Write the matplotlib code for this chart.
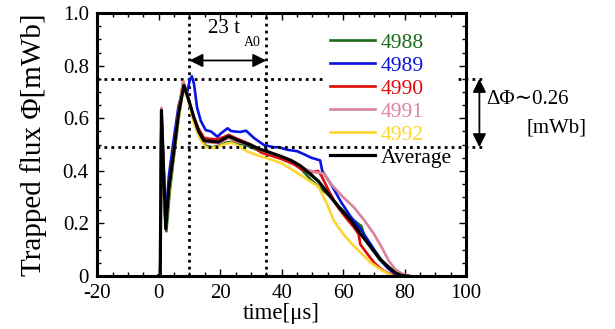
import numpy as np
import matplotlib.pyplot as plt
from matplotlib.ticker import MultipleLocator

plt.rcParams['font.family'] = ['Liberation Serif', 'DejaVu Serif']
plt.rcParams['axes.unicode_minus'] = False

# shot data: time [us], trapped flux [mWb]
t4988 = [0, 0.5, 0.9, 2.5, 3.6, 5, 6.5, 8, 9.4, 11.5, 13.5, 15.3, 17.5, 19.5, 21.5, 23, 25.5, 28, 30, 33, 35.5,
         40, 44, 46.5, 49.6, 53, 56, 59, 62.5, 65.9, 67, 69.5, 72, 75, 78]
f4988 = [0, 0, 0.6, 0.17, 0.32, 0.46, 0.6, 0.72, 0.68, 0.6, 0.53, 0.495, 0.49, 0.495, 0.505, 0.51, 0.505, 0.5, 0.49,
         0.475, 0.465, 0.45, 0.43, 0.405, 0.365, 0.33, 0.3, 0.26, 0.22, 0.19, 0.15, 0.1, 0.06, 0.025, 0.0]

t4989 = [0, 0.5, 0.9, 2.2, 3.3, 5, 6.5, 8.2, 9.3, 10.2, 10.8, 11.5, 12.5, 13.7, 15.3, 17, 19.1, 20.5, 22.4, 23.5,
         24.6, 26.5, 28.4, 31, 34.3, 37.5, 39, 42, 45, 47.5, 49.6, 52.5, 53.2, 56, 59.4, 62.5, 65.9, 69, 72.4,
         74.5, 76.7, 79]
f4989 = [0, 0, 0.62, 0.2, 0.38, 0.53, 0.65, 0.72, 0.7, 0.75, 0.76, 0.73, 0.64, 0.59, 0.555, 0.55, 0.53, 0.545,
         0.562, 0.552, 0.55, 0.548, 0.553, 0.525, 0.498, 0.49, 0.49, 0.48, 0.475, 0.462, 0.45, 0.44, 0.4, 0.35,
         0.28, 0.225, 0.175, 0.12, 0.06, 0.03, 0.01, 0.0]

t4990 = [0, 0.5, 0.9, 2.3, 3.5, 5, 6.5, 8, 9.3, 11.2, 13, 14.8, 16.5, 19, 21, 22.8, 25, 28, 30, 33.3, 36, 40, 44,
         47.3, 50, 51.8, 53, 55.5, 58.4, 61, 63.5, 65, 65.6, 67.5, 70.1, 72.5, 75, 77]
f4990 = [0, 0, 0.62, 0.18, 0.34, 0.48, 0.63, 0.74, 0.69, 0.61, 0.56, 0.525, 0.522, 0.52, 0.528, 0.537, 0.525,
         0.51, 0.5, 0.47, 0.46, 0.445, 0.425, 0.4, 0.395, 0.4, 0.38, 0.32, 0.26, 0.22, 0.185, 0.16, 0.12, 0.09,
         0.05, 0.025, 0.008, 0.0]

t4991 = [0, 0.5, 0.9, 2.3, 3.5, 5, 6.5, 8, 9.3, 11.2, 13, 14.8, 17, 19.5, 22.8, 25.5, 28, 30, 33, 35.5, 40, 44, 48,
         51, 53.8, 56, 60, 63.6, 67, 70, 72.5, 74.7, 77, 79, 82]
f4991 = [0, 0, 0.64, 0.19, 0.35, 0.49, 0.63, 0.74, 0.69, 0.6, 0.55, 0.51, 0.508, 0.505, 0.525, 0.51, 0.505, 0.5,
         0.48, 0.47, 0.455, 0.435, 0.405, 0.395, 0.39, 0.35, 0.3, 0.26, 0.21, 0.16, 0.11, 0.06, 0.025, 0.01, 0.0]

t4992 = [0, 0.5, 0.9, 2.3, 3.5, 5, 6.5, 8, 9.4, 11.5, 13.5, 15.3, 17, 19, 21, 23.5, 26, 28.9, 32, 35.5, 39.8, 44,
         48, 51.9, 54.5, 57, 60, 63, 65.9, 69, 72.4, 74.5, 76]
f4992 = [0, 0, 0.6, 0.18, 0.33, 0.47, 0.6, 0.72, 0.68, 0.58, 0.52, 0.49, 0.488, 0.49, 0.5, 0.507, 0.495, 0.473,
         0.46, 0.447, 0.43, 0.4, 0.37, 0.34, 0.28, 0.21, 0.16, 0.12, 0.087, 0.05, 0.023, 0.01, 0.0]

t_avg = [0, 0.5, 0.9, 2.3, 3.3, 5, 6.5, 8.2, 9.5, 11.4, 13, 14.7, 16.8, 19.5, 21, 22.8, 25.5, 28, 30, 33, 35.5,
         39.8, 43, 46, 49.6, 52, 55, 58, 62.6, 66, 69, 72, 74.7, 77, 79, 81]
f_avg = [0, 0, 0.63, 0.18, 0.33, 0.48, 0.62, 0.725, 0.68, 0.605, 0.55, 0.515, 0.513, 0.51, 0.52, 0.532, 0.517,
         0.507, 0.498, 0.482, 0.473, 0.455, 0.44, 0.42, 0.385, 0.36, 0.315, 0.27, 0.21, 0.155, 0.11, 0.065, 0.035,
         0.012, 0.002, 0.0]

shots = [("4988", t4988, f4988, "#1a6b1a"),
         ("4989", t4989, f4989, "#0a14e0"),
         ("4990", t4990, f4990, "#e00a0a"),
         ("4991", t4991, f4991, "#d9849a"),
         ("4992", t4992, f4992, "#ffd530")]

phi_top = 0.75
phi_bot = 0.49
t_start = 10
t_end = 35

fig = plt.figure(figsize=(6.15, 3.29), dpi=100)
ax = fig.add_axes([0.158, 0.161, 0.6, 0.799])

for name, t, f, c in shots:
    ax.plot(t, f, color=c, lw=1.9, label=name)
ax.plot(t_avg, f_avg, color='black', lw=2.3, label="Average")

dots = (0, (1.0, 1.5))
ax.plot([-20, 105], [phi_top, phi_top], color='black', lw=2, ls=dots, clip_on=False, zorder=1)
ax.plot([-20, 105], [phi_bot, phi_bot], color='black', lw=2, ls=dots, clip_on=False, zorder=6)
ax.axvline(t_start, color='black', lw=2, ls=dots, zorder=1)
ax.axvline(t_end, color='black', lw=2, ls=dots, zorder=1)

ax.annotate("", xy=(t_start, 0.82), xytext=(t_end, 0.82),
            arrowprops=dict(arrowstyle='<|-|>', color='black', lw=1.3, mutation_scale=20, shrinkA=0, shrinkB=0))
ax.text(21.3, 0.943, "23 t", fontsize=15, ha='center', va='center')
ax.text(27.8, 0.89, "A0", fontsize=10, ha='left', va='center')

ax.annotate("", xy=(104.3, phi_top), xytext=(104.3, phi_bot), annotation_clip=False,
            arrowprops=dict(arrowstyle='<|-|>', color='black', lw=1.3, mutation_scale=20, shrinkA=0, shrinkB=0))
ax.text(106.5, 0.67, "ΔΦ∼0.26", fontsize=15, ha='left', va='center', clip_on=False)
ax.text(119.5, 0.565, "[mWb]", fontsize=15, ha='left', va='center', clip_on=False)

leg = ax.legend(loc='upper left', bbox_to_anchor=(0.62, 0.943), frameon=True, fontsize=15.5,
                handlelength=2.1, handletextpad=0.25, labelspacing=0.14, borderpad=0.2, borderaxespad=0)
leg.get_frame().set_edgecolor('none')
leg.get_frame().set_facecolor('white')
leg.get_frame().set_alpha(1)
for txt, line in zip(leg.get_texts(), leg.get_lines()):
    txt.set_color(line.get_color())

ax.set_xlim(-20, 100)
ax.set_ylim(0, 1.0)
ax.set_xticks([-20, 0, 20, 40, 60, 80, 100])
ax.set_yticks([0, 0.2, 0.4, 0.6, 0.8, 1.0])
ax.set_yticklabels(["0", "0.2", "0.4", "0.6", "0.8", "1.0"])
ax.xaxis.set_minor_locator(MultipleLocator(5))
ax.yaxis.set_minor_locator(MultipleLocator(0.05))
ax.tick_params(which='both', direction='in', top=True, right=True, labelsize=15, width=1)
ax.tick_params(which='major', length=5)
ax.tick_params(which='minor', length=3)
ax.tick_params(axis='x', pad=6)
ax.tick_params(axis='y', pad=6)
for s in ax.spines.values():
    s.set_linewidth(2.2)

ax.set_xlabel("time[μs]", fontsize=16.5, labelpad=0)
ax.set_ylabel("Trapped flux Φ[mWb]", fontsize=21, labelpad=11)

fig.savefig("out.png", dpi=100)
